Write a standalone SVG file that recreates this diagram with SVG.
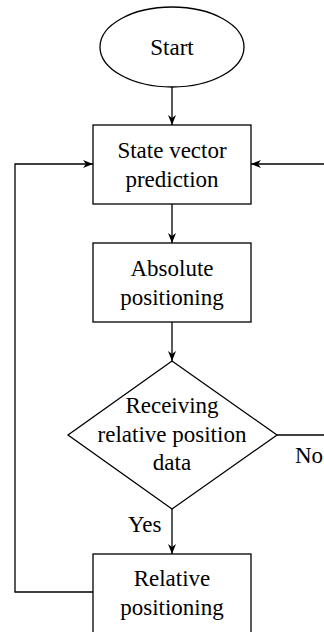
<svg xmlns="http://www.w3.org/2000/svg" width="324" height="632" viewBox="0 0 324 632">
  <defs>
    <marker id="arrow" viewBox="0 0 10 8" refX="10" refY="4" markerWidth="10" markerHeight="8" markerUnits="userSpaceOnUse" orient="auto">
      <path d="M0,0 L10,4 L0,8 L3,4 Z" fill="#000000"/>
    </marker>
  </defs>

  <rect width="324" height="632" fill="#ffffff"/>

  <!-- connectors -->
  <g id="connectors" fill="none" stroke="#000000" stroke-width="1.3">
    <path d="M172,87 L172,125" marker-end="url(#arrow)"/>
    <path d="M172,204 L172,243" marker-end="url(#arrow)"/>
    <path d="M172,322 L172,361" marker-end="url(#arrow)"/>
    <path d="M172,509 L172,554" marker-end="url(#arrow)"/>
    <path d="M93,592 L15,592 L15,164 L93,164" marker-end="url(#arrow)"/>
    <path d="M277,435 L324,435"/>
    <path d="M324,164 L251,164" marker-end="url(#arrow)"/>
  </g>
  <g id="edge-labels" fill="#000000" font-size="23">
    <text x="128" y="532" style="font-family:'Liberation Serif',serif">Yes</text>
    <text x="295" y="463" style="font-family:'Liberation Serif',serif">No</text>
  </g>

  <!-- nodes: outlines -->
  <g fill="#ffffff" stroke="#000000" stroke-width="1.3">
    <ellipse id="start" cx="172" cy="47" rx="72" ry="40"/>
    <rect id="state-vector-prediction" x="93" y="125" width="158" height="79"/>
    <rect id="absolute-positioning" x="93" y="243" width="158" height="79"/>
    <polygon id="receiving-check" points="172,361 277,435 172,509 68,435"/>
    <rect id="relative-positioning" x="93" y="554" width="158" height="90"/>
  </g>

  <!-- nodes: labels -->
  <g fill="#000000" font-size="23" text-anchor="middle">
    <text x="172" y="55" style="font-family:'Liberation Serif',serif">Start</text>
    <text x="172" y="158" style="font-family:'Liberation Serif',serif">State vector</text>
    <text x="172" y="187" style="font-family:'Liberation Serif',serif">prediction</text>
    <text x="172" y="276" style="font-family:'Liberation Serif',serif">Absolute</text>
    <text x="172" y="305" style="font-family:'Liberation Serif',serif">positioning</text>
    <text x="172" y="413" style="font-family:'Liberation Serif',serif">Receiving</text>
    <text x="172" y="442" style="font-family:'Liberation Serif',serif">relative position</text>
    <text x="172" y="470" style="font-family:'Liberation Serif',serif">data</text>
    <text x="172" y="586" style="font-family:'Liberation Serif',serif">Relative</text>
    <text x="172" y="615" style="font-family:'Liberation Serif',serif">positioning</text>
  </g>
</svg>
